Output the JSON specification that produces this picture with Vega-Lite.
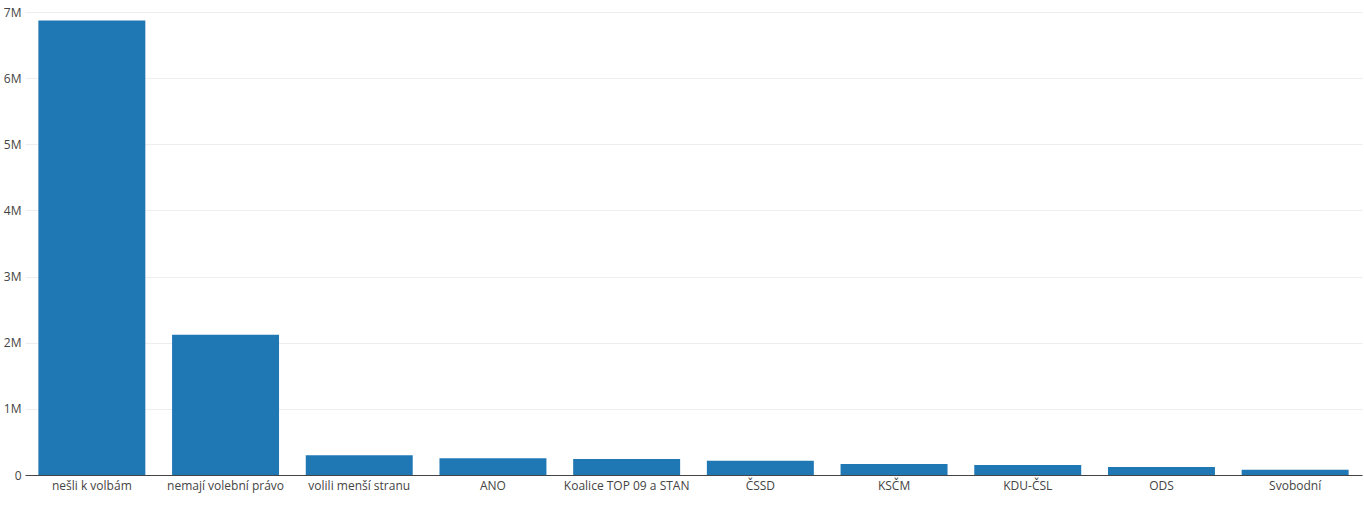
{
  "$schema": "https://vega.github.io/schema/vega-lite/v6.json",
  "width": 1337,
  "height": 463,
  "autosize": {"type": "none"},
  "padding": {"left": 25, "top": 12, "right": 2, "bottom": 31},
  "background": "white",
  "config": {"view": {"stroke": null}, "font": "Open Sans"},
  "data": {
    "values": [
      {"kategorie": "nešli k volbám", "pocet": 6870000},
      {"kategorie": "nemají volební právo", "pocet": 2120000},
      {"kategorie": "volili menší stranu", "pocet": 300000},
      {"kategorie": "ANO", "pocet": 252000},
      {"kategorie": "Koalice TOP 09 a STAN", "pocet": 242000},
      {"kategorie": "ČSSD", "pocet": 216000},
      {"kategorie": "KSČM", "pocet": 166000},
      {"kategorie": "KDU-ČSL", "pocet": 150000},
      {"kategorie": "ODS", "pocet": 120000},
      {"kategorie": "Svobodní", "pocet": 80000}
    ]
  },
  "mark": {"type": "bar", "color": "#1f77b4"},
  "encoding": {
    "x": {
      "field": "kategorie",
      "type": "nominal",
      "sort": null,
      "scale": {"paddingInner": 0.2, "paddingOuter": 0.1},
      "axis": {
        "title": null,
        "labelAngle": 0,
        "ticks": false,
        "domainColor": "#444",
        "domainWidth": 1,
        "labelColor": "#444",
        "labelFontSize": 12,
        "labelPadding": 5,
        "labelFont": "Open Sans"
      }
    },
    "y": {
      "field": "pocet",
      "type": "quantitative",
      "scale": {"domain": [0, 7000000], "nice": false},
      "axis": {
        "title": null,
        "values": [0, 1000000, 2000000, 3000000, 4000000, 5000000, 6000000, 7000000],
        "labelExpr": "datum.value == 0 ? '0' : (datum.value / 1000000) + 'M'",
        "ticks": false,
        "domain": false,
        "gridColor": "#eeeeee",
        "gridWidth": 1,
        "labelColor": "#444",
        "labelFontSize": 12,
        "labelPadding": 4,
        "labelFont": "Open Sans"
      }
    }
  }
}
